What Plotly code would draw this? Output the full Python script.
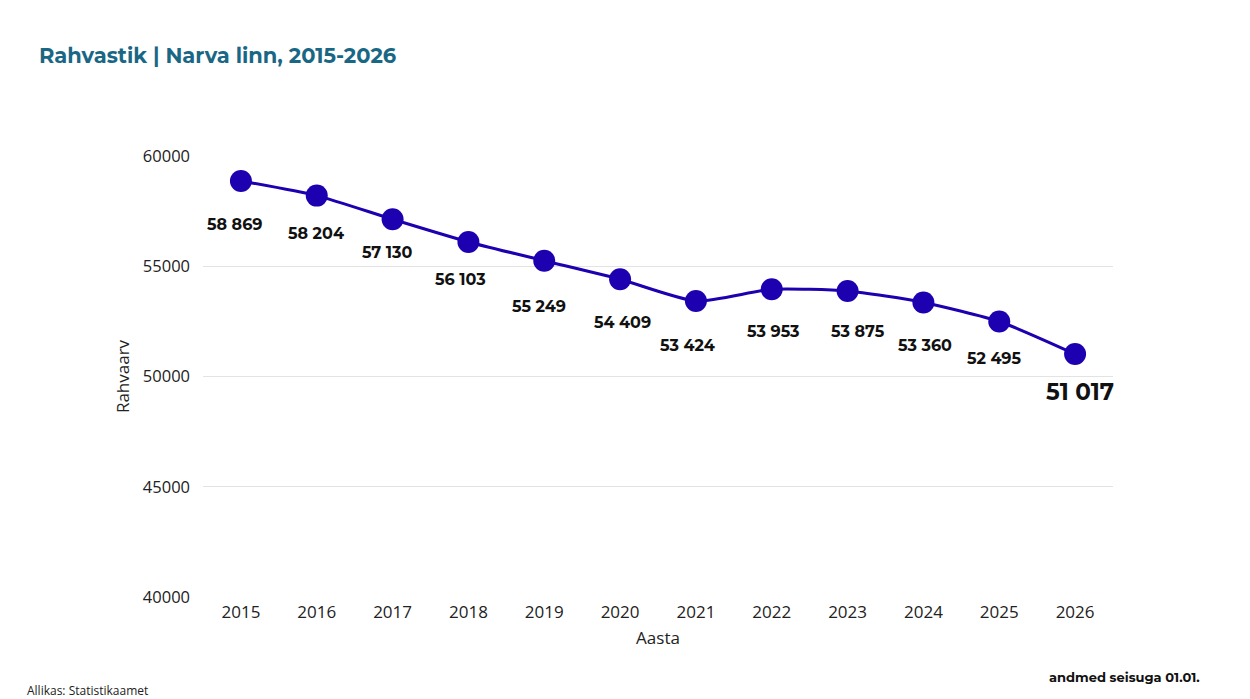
import plotly.graph_objects as go

years = [2015, 2016, 2017, 2018, 2019, 2020, 2021, 2022, 2023, 2024, 2025, 2026]
population = [58869, 58204, 57130, 56103, 55249, 54409, 53424, 53953, 53875, 53360, 52495, 51017]
labels = ["58 869", "58 204", "57 130", "56 103", "55 249", "54 409", "53 424", "53 953", "53 875", "53 360", "52 495", "51 017"]
y_ticks = [40000, 45000, 50000, 55000, 60000]

# label offsets (pixels) relative to each point
label_dx = [-6, -1, -5, -8, -5, 2, -8, 2, 10, 2, -5, 5]
label_dy = [-44, -38, -33, -38, -46, -43, -44, -42, -40, -43, -37, -38]

line_color = "#1d00b0"

fig = go.Figure()
fig.add_trace(go.Scatter(
    x=years, y=population, mode="lines+markers",
    line=dict(color=line_color, width=3, shape="spline", smoothing=0.6),
    marker=dict(color=line_color, size=22),
    hoverinfo="x+y", showlegend=False,
))

for i, (yr, val, lab) in enumerate(zip(years, population, labels)):
    last = i == len(years) - 1
    fig.add_annotation(
        x=yr, y=val, text=f"<b>{lab}</b>", showarrow=False,
        xshift=label_dx[i], yshift=label_dy[i],
        font=dict(family="Montserrat, Lato, Open Sans, sans-serif",
                  size=23 if last else 16, color="#111111"),
    )

fig.update_layout(
    width=1250, height=699,
    margin=dict(l=203, r=137, t=156, b=102),
    paper_bgcolor="white", plot_bgcolor="white",
    title=dict(
        text="<b>Rahvastik | Narva linn, 2015-2026</b>",
        x=39 / 1250, xanchor="left", xref="container",
        y=1 - 56 / 699, yanchor="middle", yref="container",
        font=dict(family="Montserrat, Lato, Open Sans, sans-serif", size=21, color="#1a6785"),
    ),
    xaxis=dict(
        range=[2014.5, 2026.5], tickvals=years, ticktext=[str(y) for y in years],
        title=dict(text="Aasta", font=dict(family="Open Sans", size=17, color="#222222"), standoff=10),
        tickfont=dict(family="Open Sans", size=17, color="#222222"),
        showgrid=False, showline=False, zeroline=False, ticks="", ticklabelstandoff=3,
    ),
    yaxis=dict(
        range=[40000, 60000], tickvals=y_ticks, ticktext=[str(v) for v in y_ticks],
        title=dict(text="Rahvaarv", font=dict(family="Open Sans", size=17, color="#222222"), standoff=8),
        tickfont=dict(family="Open Sans", size=16.5, color="#222222"),
        showgrid=True, gridcolor="#e3e3e3", gridwidth=1, zeroline=False, showline=False,
        ticks="", ticklabelstandoff=12,
    ),
)

fig.add_annotation(
    xref="paper", yref="paper", x=(25 - 203) / 910, y=-(690 - 597) / 441,
    xanchor="left", yanchor="middle", showarrow=False,
    text="Allikas: Statistikaamet",
    font=dict(family="Open Sans", size=12, color="#222222"),
)
fig.add_annotation(
    xref="paper", yref="paper", x=(1202 - 203) / 910, y=-(677 - 597) / 441,
    xanchor="right", yanchor="middle", showarrow=False,
    text="<b>andmed seisuga 01.01.</b>",
    font=dict(family="Montserrat, Lato, Open Sans, sans-serif", size=13, color="#111111"),
)

fig.write_html(
    "out.html",
    config={"displayModeBar": False},
    post_script="document.body.style.margin='0';document.body.style.overflow='hidden';",
)
